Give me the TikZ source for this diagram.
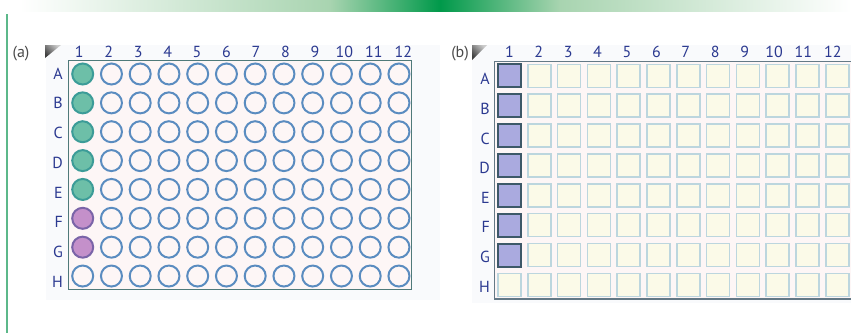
\documentclass[tikz,border=0pt]{standalone}
\usepackage{fontspec}
\setmainfont{PT Sans}
\usetikzlibrary{shapes.geometric}

\definecolor{labelblue}{HTML}{2B3990}
\definecolor{labelgray}{HTML}{4A4A4A}
\definecolor{wellblue}{HTML}{5A8CC0}
\definecolor{wellbg}{HTML}{FDF6F6}
\definecolor{tealfill}{HTML}{6DBFA8}
\definecolor{tealedge}{HTML}{3C9C98}
\definecolor{purplefill}{HTML}{C490CA}
\definecolor{purpleedge}{HTML}{7A64A8}
\definecolor{cellfill}{HTML}{FBFAE8}
\definecolor{celledge}{HTML}{BCD6DE}
\definecolor{bluefill}{HTML}{AAAADF}
\definecolor{darkedge}{HTML}{3D5868}
\definecolor{plateedge}{HTML}{4F7A7A}
\definecolor{framebg}{HTML}{F9FAFC}
\definecolor{barlight}{HTML}{A8D4B0}
\definecolor{bargreen}{HTML}{00994A}
\definecolor{sideline}{HTML}{5CB88A}

\tikzstyle{well} = [
    circle,
    minimum size=21pt,
    inner sep=0pt,
    line width=2pt,
    draw=wellblue,
    fill=wellbg
]
\tikzstyle{wellteal} = [well, draw=tealedge, fill=tealfill]
\tikzstyle{wellpurple} = [well, draw=purpleedge, fill=purplefill]
\tikzstyle{cell} = [
    rectangle,
    minimum size=23pt,
    inner sep=0pt,
    line width=1.5pt,
    draw=celledge,
    fill=cellfill
]
\tikzstyle{cellblue} = [cell, line width=2pt, draw=darkedge, fill=bluefill]
\tikzstyle{collabel} = [
    inner sep=0pt,
    text=labelblue,
    font=\fontsize{16}{16}\selectfont
]
\tikzstyle{rowlabel} = [collabel, anchor=east]
\tikzstyle{panel} = [inner sep=0pt, text=labelgray, font=\fontsize{16}{16}\selectfont]

\begin{document}
\begin{tikzpicture}[x=1pt, y=-1pt]

\useasboundingbox (0,0) rectangle (851,333);

% header bar and side rule
\shade[left color=white, right color=barlight] (20,0) rectangle (330,11);
\shade[left color=barlight, right color=bargreen] (330,0) rectangle (440,11);
\shade[left color=bargreen, right color=barlight] (440,0) rectangle (560,11);
\shade[left color=barlight, right color=white] (560,0) rectangle (851,11);
\draw[sideline, line width=1.5pt] (7,14) -- (7,333);

% plate (a)
\fill[framebg] (46,45) rectangle (440,300);
\shade[left color=black!75, right color=black!20, shading angle=135]
    (45,45) -- (61,45) -- (45,58) -- cycle;
\node (lbla) [panel] at (21,54) {(a)};
\draw[plateedge, line width=1.5pt, fill=wellbg] (68.3,60.7) rectangle (411.7,289.3);

\foreach \c in {1,...,12}
    \node (ca-\c) [collabel] at ({79.3+29.45*(\c-1)},51.5) {\c};

\foreach \row/\r in {A/0,B/1,C/2,D/3,E/4,F/5,G/6,H/7}
    \node (ra-\row) [rowlabel] at (63,{73.5+29.75*\r}) {\row};

\foreach \row/\r/\st in {A/0/wellteal,B/1/wellteal,C/2/wellteal,D/3/wellteal,
                         E/4/wellteal,F/5/wellpurple,G/6/wellpurple,H/7/well}
    \node (wa-\row1) [\st] at (82.7,{74+28.86*\r}) {};

\foreach \row/\r in {A/0,B/1,C/2,D/3,E/4,F/5,G/6,H/7}
    \foreach \c in {2,...,12}
        \node (wa-\row\c) [well] at ({82.7+28.75*(\c-1)},{74+28.86*\r}) {};

% plate (b)
\fill[framebg] (472,45) rectangle (851,303);
\shade[left color=black!75, right color=black!20, shading angle=135]
    (472,45) -- (487,45) -- (472,60) -- cycle;
\node (lblb) [panel] at (460,54) {(b)};
\fill[wellbg] (494.3,61.7) rectangle (851,299);
\draw[darkedge!80, line width=1.5pt] (851,61.7) -- (494.3,61.7) -- (494.3,299) -- (851,299);

\foreach \c in {1,...,12}
    \node (cb-\c) [collabel] at ({509.4+29.4*(\c-1)},51.5) {\c};

\foreach \row/\r in {A/0,B/1,C/2,D/3,E/4,F/5,G/6,H/7}
    \node (rb-\row) [rowlabel] at (490,{79.3+29.6*\r}) {\row};

\foreach \row/\r/\st in {A/0/cellblue,B/1/cellblue,C/2/cellblue,D/3/cellblue,
                         E/4/cellblue,F/5/cellblue,G/6/cellblue,H/7/cell}
    \node (wb-\row1) [\st] at (509.5,{75.8+29.87*\r}) {};

\foreach \row/\r in {A/0,B/1,C/2,D/3,E/4,F/5,G/6,H/7}
    \foreach \c in {2,...,12}
        \node (wb-\row\c) [cell] at ({509.5+29.8*(\c-1)},{75.8+29.87*\r}) {};

\end{tikzpicture}
\end{document}
